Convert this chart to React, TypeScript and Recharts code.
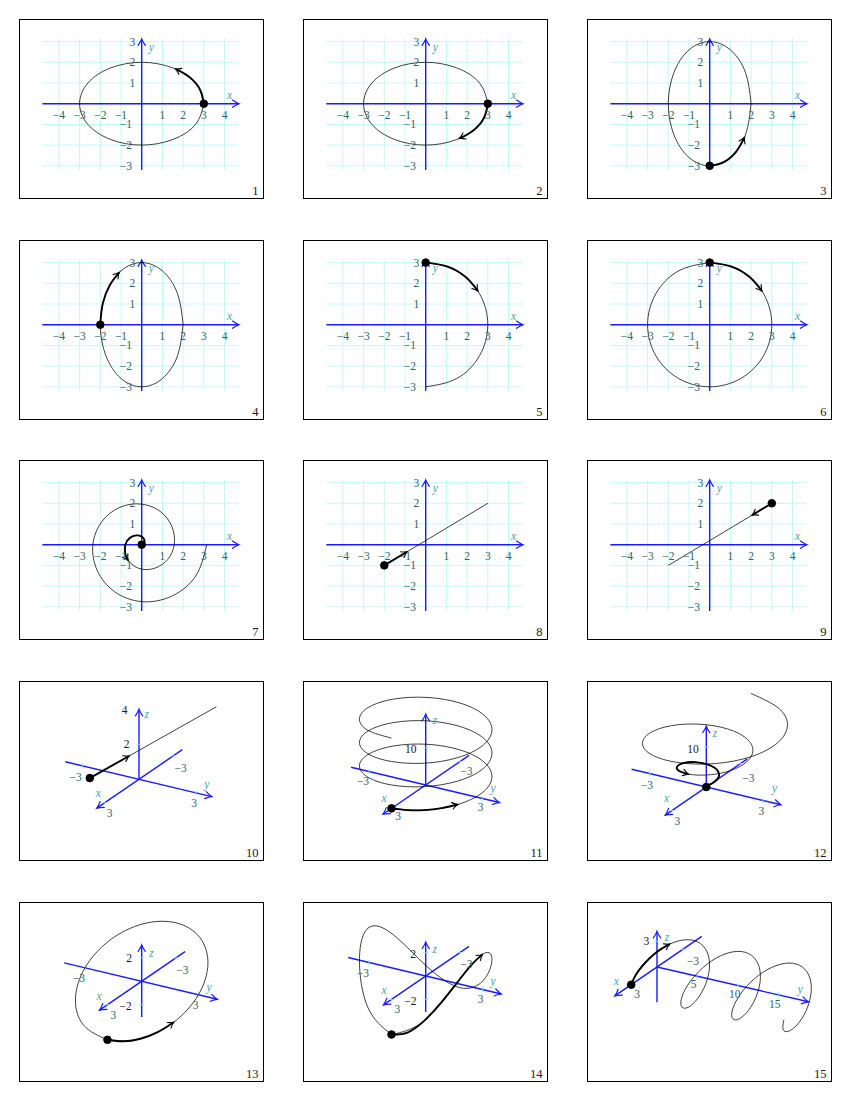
import React from 'react';
import { ComposedChart, XAxis, YAxis, Line, ReferenceLine, ReferenceDot } from 'recharts';

type P2 = [number, number];
type P3 = [number, number, number];
type Lbl = [string, number, number, 'tick' | 'z' | 'name'];

const FONT = "'Liberation Serif', 'DejaVu Serif', serif";
const BLUE = '#1a1aff';
const GRID = '#c2f6f6';
const TICK_TXT = '#2f6262';
const Z_TXT = '#1a1a1a';
const NAME_TXT = '#45a5a5';

const W = 245;
const H = 180;
const COLS = [19, 303, 587];
const ROWS = [19, 240, 460, 681, 902];

// ---------- 2D panels (1-9) ----------
const U = 20.7; // px per unit
const O2: P2 = [122.7, 84.7];
const GRID_X = [-4, -3, -2, -1, 1, 2, 3, 4];
const GRID_Y = [-3, -2, -1, 1, 2, 3];
const TICK_X = [-4, -3, -2, -1, 1, 2, 3, 4];
const TICK_Y = [-3, -2, -1, 1, 2, 3];

const ellipseWide: P2[] = [[3, 0], [2.6, 1], [1.5, 1.73], [0, 2], [-1.5, 1.73], [-2.6, 1], [-3, 0], [-2.6, -1], [-1.5, -1.73], [0, -2], [1.5, -1.73], [2.6, -1], [3, 0]];
const ellipseWideCCW: P2[] = [[3, 0], [2.82, 0.68], [2.3, 1.29], [1.63, 1.68]];
const ellipseWideCW: P2[] = [[3, 0], [2.82, -0.68], [2.3, -1.29], [1.63, -1.68]];
const ellipseTall: P2[] = [[2, 0], [1.73, 1.5], [1, 2.6], [0, 3], [-1, 2.6], [-1.73, 1.5], [-2, 0], [-1.73, -1.5], [-1, -2.6], [0, -3], [1, -2.6], [1.73, -1.5], [2, 0]];
const ellipseTallUp: P2[] = [[0, -3], [0.68, -2.82], [1.29, -2.3], [1.68, -1.63]];
const ellipseTallLeft: P2[] = [[-2, 0], [-1.88, 1.03], [-1.53, 1.93], [-1.09, 2.52]];
const halfCircle: P2[] = [[0, 3], [1.5, 2.6], [2.6, 1.5], [3, 0], [2.6, -1.5], [1.5, -2.6], [0, -3]];
const fullCircle: P2[] = [[0, 3], [1.5, 2.6], [2.6, 1.5], [3, 0], [2.6, -1.5], [1.5, -2.6], [0, -3], [-1.5, -2.6], [-2.6, -1.5], [-3, 0], [-2.6, 1.5], [-1.5, 2.6], [0, 3]];
const circleThick: P2[] = [[0, 3], [1.03, 2.82], [1.93, 2.3], [2.52, 1.63]];
const spiral: P2[] = [[0, 0], [0.11, 0.07], [0.13, 0.23], [0, 0.39], [-0.26, 0.45], [-0.57, 0.33], [-0.79, 0], [-0.79, -0.46], [-0.52, -0.91], [0, -1.18], [0.65, -1.13], [1.25, -0.72], [1.57, 0], [1.47, 0.85], [0.92, 1.59], [0, 1.96], [-1.05, 1.81], [-1.93, 1.11], [-2.36, 0], [-2.15, -1.24], [-1.31, -2.27], [0, -2.75], [1.44, -2.49], [2.61, -1.51], [3.14, 0]];
const spiralThick: P2[] = [[0, 0], [0.11, 0.07], [0.13, 0.23], [0, 0.39], [-0.26, 0.45], [-0.57, 0.33], [-0.79, 0], [-0.79, -0.46], [-0.66, -0.75]];
const segment: P2[] = [[-2, -1], [3, 2]];
const segmentUp: P2[] = [[-2, -1], [-0.9, -0.34]];
const segmentDown: P2[] = [[3, 2], [2.05, 1.43]];

// ---------- 3D panels (10-15) ----------
const line10: P3[] = [[1, -2, 0], [1, 4.7, 5.8]];
const line10Thick: P3[] = [[1, -2, 0], [1, 0.08, 1.8]];
const helix11: P3[] = [[3, 0, 0], [2.6, 1.5, 0.52], [1.5, 2.6, 1.05], [0, 3, 1.57], [-1.5, 2.6, 2.09], [-2.6, 1.5, 2.62], [-3, 0, 3.14], [-2.6, -1.5, 3.67], [-1.5, -2.6, 4.19], [0, -3, 4.71], [1.5, -2.6, 5.24], [2.6, -1.5, 5.76], [3, 0, 6.28], [2.6, 1.5, 6.81], [1.5, 2.6, 7.33], [0, 3, 7.85], [-1.5, 2.6, 8.38], [-2.6, 1.5, 8.9], [-3, 0, 9.42], [-2.6, -1.5, 9.95], [-1.5, -2.6, 10.47], [0, -3, 11], [1.5, -2.6, 11.52], [2.6, -1.5, 12.04], [3, 0, 12.57], [2.6, 1.5, 13.09], [1.5, 2.6, 13.61], [0, 3, 14.14], [-1.5, 2.6, 14.66], [-2.6, 1.5, 15.18], [-3, 0, 15.71], [-2.6, -1.5, 16.23], [-1.5, -2.6, 16.76], [0, -3, 17.28], [1.5, -2.6, 17.8], [2.6, -1.5, 18.33], [3, 0, 18.85]];
const helix11Thick: P3[] = [[3, 0, 0], [2.9, 0.77, 0.26], [2.6, 1.5, 0.52], [2.12, 2.12, 0.79], [1.5, 2.6, 1.05]];
const cone12: P3[] = [[0, 0, 0], [0.11, 0.07, 0.52], [0.13, 0.23, 1.05], [0, 0.39, 1.57], [-0.26, 0.45, 2.09], [-0.57, 0.33, 2.62], [-0.79, 0, 3.14], [-0.79, -0.46, 3.67], [-0.52, -0.91, 4.19], [0, -1.18, 4.71], [0.65, -1.13, 5.24], [1.25, -0.72, 5.76], [1.57, 0, 6.28], [1.47, 0.85, 6.81], [0.92, 1.59, 7.33], [0, 1.96, 7.85], [-1.05, 1.81, 8.38], [-1.93, 1.11, 8.9], [-2.36, 0, 9.42], [-2.15, -1.24, 9.95], [-1.31, -2.27, 10.47], [0, -2.75, 11], [1.44, -2.49, 11.52], [2.61, -1.51, 12.04], [3.14, 0, 12.57], [2.83, 1.64, 13.09], [1.7, 2.95, 13.61], [0, 3.53, 14.14], [-1.83, 3.17, 14.66], [-3.29, 1.9, 15.18], [-3.93, 0, 15.71]];
const cone12Thick: P3[] = cone12.slice(0, 13);
const ellipse13: P3[] = [[3, 0, -3], [2.6, 1.5, -2.6], [1.5, 2.6, -1.5], [0, 3, 0], [-1.5, 2.6, 1.5], [-2.6, 1.5, 2.6], [-3, 0, 3], [-2.6, -1.5, 2.6], [-1.5, -2.6, 1.5], [0, -3, 0], [1.5, -2.6, -1.5], [2.6, -1.5, -2.6], [3, 0, -3]];
const ellipse13Thick: P3[] = [[3, 0, -3], [2.9, 0.78, -2.9], [2.6, 1.5, -2.6], [2.12, 2.12, -2.12], [1.5, 2.6, -1.5]];
const saddle14: P3[] = [[3, 0, -3], [2.6, 1.5, -1.5], [1.5, 2.6, 1.5], [0, 3, 3], [-1.5, 2.6, 1.5], [-2.6, 1.5, -1.5], [-3, 0, -3], [-2.6, -1.5, -1.5], [-1.5, -2.6, 1.5], [0, -3, 3], [1.5, -2.6, 1.5], [2.6, -1.5, -1.5], [3, 0, -3]];
const saddle14Thick: P3[] = [[3, 0, -3], [2.9, 0.78, -2.6], [2.6, 1.5, -1.5], [2.12, 2.12, 0], [1.5, 2.6, 1.5], [0.78, 2.9, 2.6], [0, 3, 3]];
const helix15: P3[] = [[3, 0, 0], [2.6, 0.52, 1.5], [1.5, 1.05, 2.6], [0, 1.57, 3], [-1.5, 2.09, 2.6], [-2.6, 2.62, 1.5], [-3, 3.14, 0], [-2.6, 3.67, -1.5], [-1.5, 4.19, -2.6], [0, 4.71, -3], [1.5, 5.24, -2.6], [2.6, 5.76, -1.5], [3, 6.28, 0], [2.6, 6.81, 1.5], [1.5, 7.33, 2.6], [0, 7.85, 3], [-1.5, 8.38, 2.6], [-2.6, 8.9, 1.5], [-3, 9.42, 0], [-2.6, 9.95, -1.5], [-1.5, 10.47, -2.6], [0, 11, -3], [1.5, 11.52, -2.6], [2.6, 12.04, -1.5], [3, 12.57, 0], [2.6, 13.09, 1.5], [1.5, 13.61, 2.6], [0, 14.14, 3], [-1.5, 14.66, 2.6], [-2.6, 15.18, 1.5], [-3, 15.71, 0], [-2.6, 16.23, -1.5], [-1.5, 16.76, -2.6], [0, 17.28, -3], [1.5, 17.8, -2.6], [2.6, 18.33, -1.5], [3, 18.85, 0]];
const helix15Thick: P3[] = [[3, 0, 0], [2.9, 0.26, 0.78], [2.6, 0.52, 1.5], [2.12, 0.79, 2.12], [1.5, 1.05, 2.6], [0.78, 1.31, 2.9], [0, 1.57, 3]];

type Cfg3 = {
  num: number; col: number; row: number;
  o: P2; ex: P2; ey: P2; ez: P2;
  xr: P2; yr: P2; zr: P2;
  xt: number[]; yt: number[]; zt: number[];
  labels: Lbl[];
  curve: P3[]; thick: P3[]; dot: P3;
};

const EX: P2 = [-11.4, 7.8];
const EY: P2 = [18.9, 4.5];

const PANELS_3D: Cfg3[] = [
  {
    num: 10, col: 0, row: 3, o: [120, 98.3], ex: EX, ey: EY, ez: [0, -17.5],
    xr: [-3.8, 3.7], yr: [-3.9, 3.85], zr: [0, 4], xt: [-3, 3], yt: [-3, 3], zt: [2],
    labels: [['\u22123', -63.3, -2.7, 'tick'], ['3', 55, 23.3, 'tick'], ['\u22123', 41.7, -11, 'tick'], ['3', -29.3, 33.3, 'tick'], ['2', -12.3, -35, 'z'], ['4', -14.3, -69, 'z'], ['x', -40.7, 13.3, 'name'], ['y', 67.7, 5, 'name'], ['z', 7.7, -65.7, 'name']],
    curve: line10, thick: line10Thick, dot: [1, -2, 0],
  },
  {
    num: 11, col: 1, row: 3, o: [122.7, 104], ex: EX, ey: EY, ez: [0, -3.73],
    xr: [-3.8, 3.75], yr: [-3.95, 3.9], zr: [0, 19], xt: [-3, 3], yt: [-3, 3], zt: [10],
    labels: [['10', -15, -36.3, 'z'], ['\u22123', -62.7, -4, 'tick'], ['3', 55, 22, 'tick'], ['\u22123', 40.7, -14, 'tick'], ['3', -27.7, 31, 'tick'], ['x', -41.7, 12.7, 'name'], ['y', 67.3, 3.3, 'name'], ['z', 9, -64.7, 'name']],
    curve: helix11, thick: helix11Thick, dot: [3, 0, 0],
  },
  {
    num: 12, col: 2, row: 3, o: [119.3, 106], ex: EX, ey: EY, ez: [0, -4.0],
    xr: [-3.6, 3.6], yr: [-3.95, 3.95], zr: [0, 15.2], xt: [-3, 3], yt: [-3, 3], zt: [10],
    labels: [['10', -13.3, -38.3, 'z'], ['\u22123', -59.3, -2, 'tick'], ['3', 55, 24, 'tick'], ['\u22123', 42, -9.3, 'tick'], ['3', -29, 34, 'tick'], ['x', -39.7, 10.7, 'name'], ['y', 68.3, 1.3, 'name'], ['z', 8.7, -54.3, 'name']],
    curve: cone12, thick: cone12Thick, dot: [0, 0, 0],
  },
  {
    num: 13, col: 0, row: 4, o: [122.7, 79.3], ex: EX, ey: EY, ez: [0, -11.7],
    xr: [-3.8, 3.7], yr: [-4.1, 4.0], zr: [-3.05, 3.1], xt: [-3, 3], yt: [-3, 3], zt: [-2, 2],
    labels: [['2', -12.7, -23.3, 'z'], ['\u22122', -16, 24.7, 'z'], ['\u22123', -62.7, -3.3, 'tick'], ['3', 54, 24, 'tick'], ['\u22123', 40.7, -11, 'tick'], ['3', -28.3, 34, 'tick'], ['x', -42.7, 14.7, 'name'], ['y', 67.3, 5.7, 'name'], ['z', 9.7, -28.7, 'name']],
    curve: ellipse13, thick: ellipse13Thick, dot: [3, 0, -3],
  },
  {
    num: 14, col: 1, row: 4, o: [122.7, 74], ex: EX, ey: EY, ez: [0, -11.7],
    xr: [-3.8, 3.7], yr: [-4.1, 4.0], zr: [-3.08, 2.9], xt: [-3, 3], yt: [-3, 3], zt: [-2, 2],
    labels: [['2', -12.7, -22.3, 'z'], ['\u22122', -15.3, 25, 'z'], ['\u22123', -62.7, -3.3, 'tick'], ['3', 55, 23.3, 'tick'], ['\u22123', 40.7, -12.3, 'tick'], ['3', -28.3, 33.3, 'tick'], ['x', -41.7, 14.3, 'name'], ['y', 67.3, 5.3, 'name'], ['z', 9, -27.3, 'name']],
    curve: saddle14, thick: saddle14Thick, dot: [3, 0, -3],
  },
  {
    num: 15, col: 2, row: 4, o: [70, 65], ex: [-8.6, 5.9], ey: [8.1, 1.86], ez: [0, -8.6],
    xr: [-5.2, 4.9], yr: [0, 18.7], zr: [-4.1, 4.15], xt: [-3, 3], yt: [5, 10, 15], zt: [3],
    labels: [['3', -10.7, -25.7, 'z'], ['\u22123', 36, -5.7, 'tick'], ['3', -20, 26.7, 'tick'], ['5', 36.7, 16.7, 'tick'], ['10', 77.7, 26.7, 'tick'], ['15', 117.7, 36.7, 'tick'], ['x', -40.7, 14, 'name'], ['y', 143.3, 22.3, 'name'], ['z', 10, -30, 'name']],
    curve: helix15, thick: helix15Thick, dot: [3, 0, 0],
  },
];

type Panel2 = { num: number; col: number; row: number; curve: P2[]; thick: P2[]; dot: P2 };
const PANELS_2D: Panel2[] = [
  { num: 1, col: 0, row: 0, curve: ellipseWide, thick: ellipseWideCCW, dot: [3, 0] },
  { num: 2, col: 1, row: 0, curve: ellipseWide, thick: ellipseWideCW, dot: [3, 0] },
  { num: 3, col: 2, row: 0, curve: ellipseTall, thick: ellipseTallUp, dot: [0, -3] },
  { num: 4, col: 0, row: 1, curve: ellipseTall, thick: ellipseTallLeft, dot: [-2, 0] },
  { num: 5, col: 1, row: 1, curve: halfCircle, thick: circleThick, dot: [0, 3] },
  { num: 6, col: 2, row: 1, curve: fullCircle, thick: circleThick, dot: [0, 3] },
  { num: 7, col: 0, row: 2, curve: spiral, thick: spiralThick, dot: [0, 0] },
  { num: 8, col: 1, row: 2, curve: segment, thick: segmentUp, dot: [-2, -1] },
  { num: 9, col: 2, row: 2, curve: segment, thick: segmentDown, dot: [3, 2] },
];

// ---------- helpers ----------
const fmt = (v: number) => (v < 0 ? '\u2212' + Math.abs(v) : String(v));
const toXY = (pts: P2[]) => pts.map(([x, y]) => ({ x, y }));

const text = (key: string, x: number, y: number, value: string, color: string, opts: { italic?: boolean; anchor?: string; size?: number } = {}) => (
  <ReferenceDot
    key={key} x={x} y={y} r={1} ifOverflow="visible"
    shape={(p: any) => (
      <text x={p.cx} y={p.cy} textAnchor={opts.anchor || 'middle'} dominantBaseline="central"
        fontFamily={FONT} fontSize={opts.size || 11.5} fontStyle={opts.italic ? 'italic' : 'normal'} fill={color}>
        {value}
      </text>
    )}
  />
);

const seg = (key: string, a: { x: number; y: number }, b: { x: number; y: number }, stroke: string, width: number, marker?: string) => (
  <ReferenceLine
    key={key} segment={[a, b]} ifOverflow="visible" stroke={stroke} strokeWidth={width}
    shape={(p: any) => (
      <line x1={p.x1} y1={p.y1} x2={p.x2} y2={p.y2} stroke={stroke} strokeWidth={width}
        markerEnd={marker ? `url(#${marker})` : undefined} />
    )}
  />
);

const curve = (key: string, data: { x: number; y: number }[], thick: boolean) => (
  <Line key={key} data={data} dataKey="y" type="natural" stroke="#000" strokeWidth={thick ? 1.9 : 0.75}
    dot={false} activeDot={false} isAnimationActive={false} markerEnd={thick ? 'url(#arrowK)' : undefined} />
);

function Frame({ left, top, children }: { left: number; top: number; children: React.ReactNode }) {
  return (
    <div style={{ position: 'absolute', left, top, width: W, height: H }}>
      {children}
      <div style={{ position: 'absolute', left: 0, top: 0, width: W, height: H, border: '1px solid #000', boxSizing: 'border-box' }} />
    </div>
  );
}

function Panel2D({ p }: { p: Panel2 }) {
  const xd: P2 = [-O2[0] / U, (W - O2[0]) / U];
  const yd: P2 = [-(H - O2[1]) / U, O2[1] / U];
  return (
    <Frame left={COLS[p.col]} top={ROWS[p.row]}>
      <ComposedChart width={W} height={H} margin={{ top: 0, right: 0, bottom: 0, left: 0 }}>
        <XAxis type="number" dataKey="x" domain={xd} hide allowDataOverflow />
        <YAxis type="number" dataKey="y" domain={yd} hide allowDataOverflow />
        {GRID_X.map((g) => seg(`gx${g}`, { x: g, y: -3.2 }, { x: g, y: 3.15 }, GRID, 0.9))}
        {GRID_Y.map((g) => seg(`gy${g}`, { x: -4.8, y: g }, { x: 4.7, y: g }, GRID, 0.9))}
        {seg('ax', { x: -4.8, y: 0 }, { x: 4.7, y: 0 }, BLUE, 1.4, 'arrowB')}
        {seg('ay', { x: 0, y: -3.2 }, { x: 0, y: 3.13 }, BLUE, 1.4, 'arrowB')}
        {TICK_X.map((t) => text(`tx${t}`, t, -0.55, fmt(t), TICK_TXT))}
        {TICK_Y.map((t) => text(`ty${t}`, t > 0 ? -0.45 : -0.76, t, fmt(t), TICK_TXT))}
        {text('nx', 4.25, 0.42, 'x', NAME_TXT, { italic: true })}
        {text('ny', 0.47, 2.72, 'y', NAME_TXT, { italic: true })}
        {curve('c', toXY(p.curve), false)}
        {curve('t', toXY(p.thick), true)}
        <ReferenceDot x={p.dot[0]} y={p.dot[1]} r={3.8} fill="#000" stroke="#000" ifOverflow="visible" />
        {text('num', (239.5 - O2[0]) / U, (O2[1] - 171.5) / U, String(p.num), Z_TXT, { anchor: 'end', size: 12.5 })}
      </ComposedChart>
    </Frame>
  );
}

function Panel3D({ c }: { c: Cfg3 }) {
  const pr = ([x, y, z]: P3) => ({
    x: x * c.ex[0] + y * c.ey[0] + z * c.ez[0],
    y: -(x * c.ex[1] + y * c.ey[1] + z * c.ez[1]),
  });
  const xd: P2 = [-c.o[0], W - c.o[0]];
  const yd: P2 = [-(H - c.o[1]), c.o[1]];
  const tick = (key: string, q: { x: number; y: number }, vertical: boolean) =>
    vertical
      ? seg(key, { x: q.x, y: q.y - 2.5 }, { x: q.x, y: q.y + 2.5 }, '#8fe6e6', 0.9)
      : seg(key, { x: q.x - 2.5, y: q.y }, { x: q.x + 2.5, y: q.y }, '#8fe6e6', 0.9);
  return (
    <Frame left={COLS[c.col]} top={ROWS[c.row]}>
      <ComposedChart width={W} height={H} margin={{ top: 0, right: 0, bottom: 0, left: 0 }}>
        <XAxis type="number" dataKey="x" domain={xd} hide allowDataOverflow />
        <YAxis type="number" dataKey="y" domain={yd} hide allowDataOverflow />
        {seg('ax', pr([c.xr[0], 0, 0]), pr([c.xr[1], 0, 0]), BLUE, 1.4, 'arrowB')}
        {seg('ay', pr([0, c.yr[0], 0]), pr([0, c.yr[1], 0]), BLUE, 1.4, 'arrowB')}
        {seg('az', pr([0, 0, c.zr[0]]), pr([0, 0, c.zr[1]]), BLUE, 1.4, 'arrowB')}
        {c.xt.map((t) => tick(`tx${t}`, pr([t, 0, 0]), false))}
        {c.yt.map((t) => tick(`ty${t}`, pr([0, t, 0]), true))}
        {c.zt.map((t) => tick(`tz${t}`, pr([0, 0, t]), false))}
        {c.labels.map(([s, dx, dy, kind], i) =>
          text(`l${i}`, dx, -dy, s, kind === 'z' ? Z_TXT : kind === 'name' ? NAME_TXT : TICK_TXT, { italic: kind === 'name' }))}
        {curve('c', c.curve.map(pr), false)}
        {curve('t', c.thick.map(pr), true)}
        <ReferenceDot x={pr(c.dot).x} y={pr(c.dot).y} r={3.8} fill="#000" stroke="#000" ifOverflow="visible" />
        {text('num', 239.5 - c.o[0], c.o[1] - 171.5, String(c.num), Z_TXT, { anchor: 'end', size: 12.5 })}
      </ComposedChart>
    </Frame>
  );
}

export default function App() {
  return (
    <div style={{ position: 'absolute', left: 0, top: 0, width: 850, height: 1100, background: '#fff' }}>
      <svg width={0} height={0} style={{ position: 'absolute' }}>
        <defs>
          <marker id="arrowB" viewBox="-9 -5 10 10" refX={0} refY={0} markerWidth={10} markerHeight={10} markerUnits="userSpaceOnUse" orient="auto" overflow="visible">
            <path d="M -6.5 -3.6 Q -2.2 -0.7 0 0 Q -2.2 0.7 -6.5 3.6" fill="none" stroke={BLUE} strokeWidth={1.2} strokeLinecap="round" />
          </marker>
          <marker id="arrowK" viewBox="-9 -5 10 10" refX={0} refY={0} markerWidth={10} markerHeight={10} markerUnits="userSpaceOnUse" orient="auto" overflow="visible">
            <path d="M -5.5 -3.3 Q -2 -0.6 0 0 Q -2 0.6 -5.5 3.3" fill="none" stroke="#000" strokeWidth={1.1} strokeLinecap="round" />
          </marker>
        </defs>
      </svg>
      {PANELS_2D.map((p) => <Panel2D key={p.num} p={p} />)}
      {PANELS_3D.map((c) => <Panel3D key={c.num} c={c} />)}
    </div>
  );
}
